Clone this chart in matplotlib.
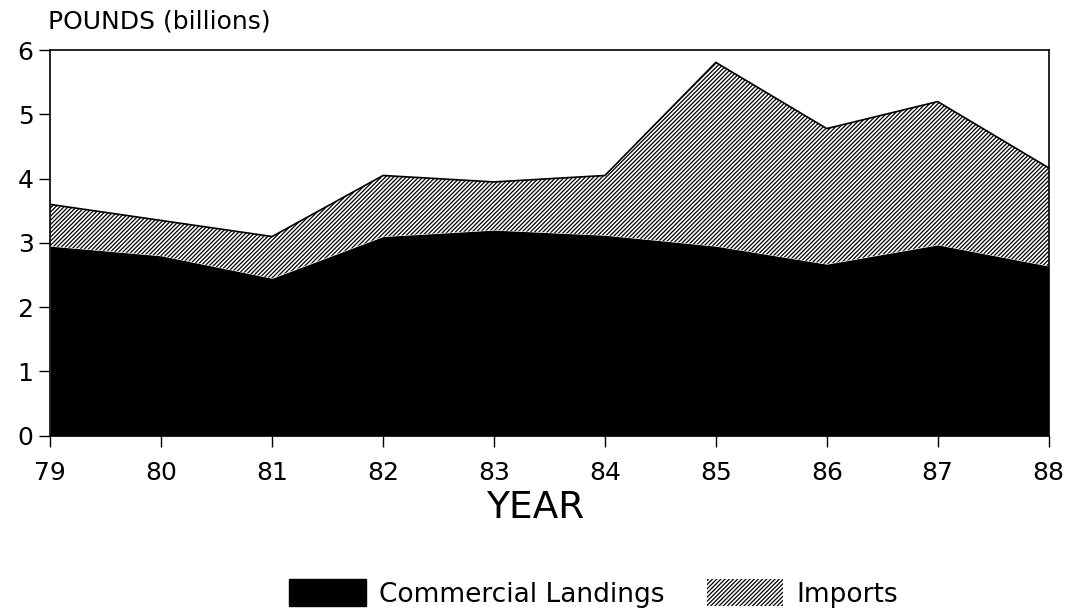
import numpy as np
import matplotlib.pyplot as plt

plt.rcParams['font.family'] = ['DejaVu Sans']
plt.rcParams['hatch.linewidth'] = 0.9

# data (billions of pounds)
years = [79, 80, 81, 82, 83, 84, 85, 86, 87, 88]
landings = [2.95, 2.8, 2.45, 3.1, 3.2, 3.12, 2.95, 2.67, 2.97, 2.64]
total = [3.6, 3.35, 3.1, 4.05, 3.95, 4.05, 5.81, 4.78, 5.2, 4.17]
year_labels = ['79', '80', '81', '82', '83', '84', '85', '86', '87', '88']

fig = plt.figure(figsize=(10.7, 6.12), dpi=100)
ax = fig.add_axes([0.047, 0.288, 0.933, 0.630])

ax.fill_between(years, 0, landings, color='black', lw=0)
ax.fill_between(years, landings, total, facecolor='white', edgecolor='black',
                hatch='////////', lw=0)
ax.plot(years, total, color='black', lw=1.2)

ax.set_xlim(79, 88)
ax.set_ylim(0, 6)
ax.set_xticks(years)
ax.set_xticklabels(year_labels)
ax.set_yticks(range(7))
ax.tick_params(axis='both', labelsize=18, length=8, width=1, direction='out')
ax.tick_params(axis='x', pad=10)
ax.tick_params(axis='y', pad=4)
for s in ax.spines.values():
    s.set_linewidth(1.2)

fig.text(0.045, 0.965, 'POUNDS (billions)', fontsize=18, va='center')
fig.text(0.5, 0.17, 'YEAR', fontsize=27, ha='center', va='center')

# legend
h1 = plt.Rectangle((0, 0), 1, 1, facecolor='black', edgecolor='black')
h2 = plt.Rectangle((0, 0), 1, 1, facecolor='white', edgecolor='black',
                   hatch='////////', lw=0)
fig.legend([h1, h2], ['Commercial Landings', 'Imports'],
           loc='center', bbox_to_anchor=(0.555, 0.03), ncol=2, frameon=False,
           fontsize=19, handlelength=2.9, handleheight=1.2,
           columnspacing=1.6, handletextpad=0.5)

plt.savefig('out.png', dpi=100)
